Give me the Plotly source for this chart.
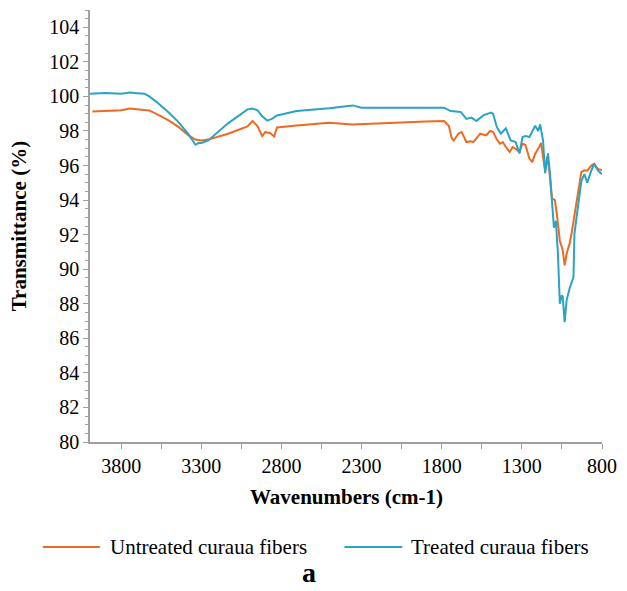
import plotly.graph_objects as go

# Treated curaua fibers (blue)
treated_wn = [4000, 3900, 3800, 3747, 3700, 3655, 3625, 3582, 3502, 3441, 3380, 3337, 3318, 3300,
              3257, 3134, 3012, 2981, 2951, 2920, 2889, 2860, 2828, 2705, 2503, 2356, 2300, 2093,
              1900, 1786, 1744, 1682, 1646, 1615, 1584, 1541, 1492, 1480, 1456, 1431, 1400, 1370,
              1339, 1315, 1296, 1278, 1253, 1217, 1198, 1186, 1168, 1155, 1137, 1125, 1100, 1088,
              1076, 1063, 1051, 1045, 1033, 1021, 1002, 978, 972, 947, 929, 910, 892, 867, 849,
              825, 800]
treated_t = [100.15, 100.2, 100.15, 100.22, 100.18, 100.15, 100.0, 99.7, 99.05, 98.5, 97.8, 97.2,
             97.3, 97.3, 97.45, 98.44, 99.25, 99.3, 99.2, 98.85, 98.6, 98.7, 98.9, 99.15, 99.32,
             99.48, 99.35, 99.35, 99.38, 99.35, 99.15, 99.1, 98.7, 98.77, 98.57, 98.9, 99.06,
             99.0, 98.22, 97.85, 98.15, 97.45, 97.36, 96.7, 97.65, 97.7, 97.65, 98.3, 98.0,
             98.38, 97.45, 95.55, 96.7, 95.55, 92.4, 92.8, 91.1, 88.0, 88.5, 88.4, 86.94, 88.2,
             88.9, 89.55, 92.06, 94.0, 95.1, 95.5, 95.0, 95.7, 96.1, 95.7, 95.5]

# Untreated curaua fibers (orange)
untreated_wn = [3980, 3900, 3800, 3747, 3686, 3625, 3563, 3502, 3441, 3380, 3337, 3300, 3257,
                3134, 3012, 2981, 2951, 2920, 2902, 2871, 2846, 2828, 2705, 2503, 2356, 2093,
                1900, 1786, 1756, 1737, 1725, 1695, 1676, 1646, 1621, 1603, 1560, 1523, 1498,
                1480, 1456, 1437, 1419, 1400, 1376, 1358, 1339, 1315, 1296, 1278, 1253, 1235,
                1217, 1192, 1180, 1168, 1155, 1143, 1131, 1112, 1094, 1082, 1063, 1045, 1033,
                1021, 1002, 990, 972, 947, 929, 910, 892, 867, 849, 825, 800]
untreated_t = [99.13, 99.15, 99.2, 99.3, 99.23, 99.19, 98.9, 98.6, 98.22, 97.74, 97.5, 97.45,
               97.5, 97.84, 98.26, 98.57, 98.3, 97.7, 97.93, 97.88, 97.68, 98.2, 98.32, 98.48,
               98.38, 98.5, 98.55, 98.57, 98.3, 97.57, 97.45, 97.85, 97.93, 97.36, 97.4, 97.36,
               97.84, 97.74, 98.0, 97.95, 97.5, 97.26, 97.36, 97.07, 96.78, 97.07, 96.97, 96.78,
               97.26, 97.2, 96.4, 96.2, 96.68, 97.07, 97.3, 96.5, 95.7, 96.5, 95.9, 94.1, 94.0,
               93.2, 91.65, 91.1, 90.22, 90.9, 91.48, 92.06, 93.2, 94.75, 95.62, 95.72, 95.7,
               96.0, 96.1, 95.8, 95.72]

x_tickvals = [3800, 3550, 3300, 3050, 2800, 2550, 2300, 2050, 1800, 1550, 1300, 1050, 800]
x_ticktext = ["3800", "", "3300", "", "2800", "", "2300", "", "1800", "", "1300", "", "800"]

ORANGE = "#EE6A22"
BLUE = "#2BA3C4"
FONT = "Liberation Serif"
AXIS = "#A0A0A0"

fig = go.Figure()
fig.add_trace(go.Scatter(x=untreated_wn, y=untreated_t, mode="lines",
                         line=dict(color=ORANGE, width=2), name="Untreated curaua fibers",
                         showlegend=False))
fig.add_trace(go.Scatter(x=treated_wn, y=treated_t, mode="lines",
                         line=dict(color=BLUE, width=2), name="Treated curaua fibers",
                         showlegend=False))

fig.update_layout(
    width=627, height=591,
    margin=dict(l=90, r=16, t=10, b=149),
    paper_bgcolor="white", plot_bgcolor="white",
    font=dict(family=FONT, color="black", size=20),
)
fig.update_xaxes(range=[3995, 800], showgrid=False, zeroline=False, showline=True,
                 linecolor=AXIS, linewidth=1.5, ticks="outside", ticklen=5, tickcolor=AXIS,
                 tickvals=x_tickvals, ticktext=x_ticktext,
                 tickfont=dict(size=20, family=FONT, color="black"))
fig.update_yaxes(range=[80, 105], showgrid=False, zeroline=False, showline=True,
                 linecolor=AXIS, linewidth=1.5, ticks="outside", ticklen=5, tickcolor=AXIS,
                 dtick=2, tick0=80, tickfont=dict(size=20, family=FONT, color="black"),
                 minor=dict(dtick=0.5, ticks="outside", ticklen=3, tickcolor=AXIS))

ann = [
    dict(text="<b>Wavenumbers (cm-1)</b>", x=0.5, y=-0.127, xref="paper", yref="paper",
         showarrow=False, font=dict(size=21, family=FONT), yanchor="middle"),
    dict(text="<b>Transmittance (%)</b>", x=-0.138, y=0.5, xref="paper", yref="paper",
         showarrow=False, font=dict(size=21, family=FONT), textangle=-90,
         xanchor="center", yanchor="middle"),
    dict(text="Untreated curaua fibers", x=0.0345, y=-0.243, xref="paper", yref="paper",
         showarrow=False, xanchor="left", yanchor="middle", font=dict(size=21, family=FONT)),
    dict(text="Treated curaua fibers", x=0.624, y=-0.243, xref="paper", yref="paper",
         showarrow=False, xanchor="left", yanchor="middle", font=dict(size=21, family=FONT)),
    dict(text="<b>a</b>", x=0.428, y=-0.3426, xref="paper", yref="paper",
         showarrow=False, yanchor="bottom", font=dict(size=28, family=FONT)),
]
fig.update_layout(annotations=ann)
fig.add_shape(type="line", xref="paper", yref="paper", x0=-0.0921, x1=0.0192,
              y0=-0.243, y1=-0.243, line=dict(color=ORANGE, width=2))
fig.add_shape(type="line", xref="paper", yref="paper", x0=0.497, x1=0.610,
              y0=-0.243, y1=-0.243, line=dict(color=BLUE, width=2))

fig.write_html("out.html")
